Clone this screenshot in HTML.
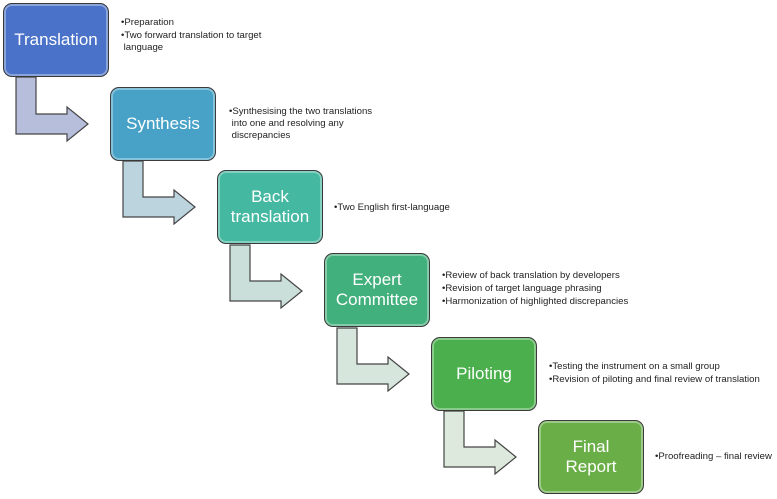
<!DOCTYPE html>
<html><head><style>
body{margin:0;width:777px;height:499px;background:#fff;position:relative;overflow:hidden;font-family:"Liberation Sans",sans-serif}
.b{position:absolute;width:104px;height:72px;border:1.5px solid #3a3a3a;border-radius:9px;color:#fff;font-size:17px;display:flex;align-items:center;justify-content:center;text-align:center;line-height:20px;box-shadow:inset 0 0 0 2px rgba(255,255,255,.35)}
.t{position:absolute;font-size:9.6px;line-height:12px;color:#222}
svg{position:absolute;left:0;top:0}
</style></head><body>
<svg width="777" height="499">
<g stroke="#444" stroke-width="1.2">
<path d="M16,77 L36,77 L36,114 L67,114 L67,107 L88,124 L67,141 L67,134 L16,134 Z" fill="#b6bedc"/>
<path d="M123,161 L143,161 L143,197 L174,197 L174,190 L195,207 L174,224 L174,217 L123,217 Z" fill="#bcd4de"/>
<path d="M230,245 L250,245 L250,281 L281,281 L281,274 L302,291 L281,308 L281,301 L230,301 Z" fill="#cadeda"/>
<path d="M337,328 L357,328 L357,364 L388,364 L388,357 L409,374 L388,391 L388,384 L337,384 Z" fill="#d6e6dc"/>
<path d="M444,411 L464,411 L464,447 L495,447 L495,440 L516,457 L495,474 L495,467 L444,467 Z" fill="#dce9dc"/>
</g></svg>
<div class="b" style="left:3px;top:3px;background:#4a72c8">Translation</div>
<div class="b" style="left:110px;top:87px;background:#48a2c8">Synthesis</div>
<div class="b" style="left:217px;top:170px;background:#44b8a0">Back<br>translation</div>
<div class="b" style="left:324px;top:253px;background:#42b07c">Expert<br>Committee</div>
<div class="b" style="left:431px;top:337px;background:#4aaf4c">Piloting</div>
<div class="b" style="left:538px;top:420px;background:#6aae48">Final<br>Report</div>
<div class="t" style="left:121px;top:17px">•Preparation<br><div style="margin-top:1px">•Two forward translation to target<br>&nbsp;language</div></div>
<div class="t" style="left:229px;top:106px">•Synthesising the two translations<br>&nbsp;into one and resolving any<br>&nbsp;discrepancies</div>
<div class="t" style="left:334px;top:202px">•Two English first-language</div>
<div class="t" style="left:442px;top:270px">•Review of back translation by developers<div style="margin-top:1px">•Revision of target language phrasing</div><div style="margin-top:1px">•Harmonization of highlighted discrepancies</div></div>
<div class="t" style="left:549px;top:361px">•Testing the instrument on a small group<div style="margin-top:1px">•Revision of piloting and final review of translation</div></div>
<div class="t" style="left:655px;top:451px">•Proofreading – final review</div>
</body></html>
